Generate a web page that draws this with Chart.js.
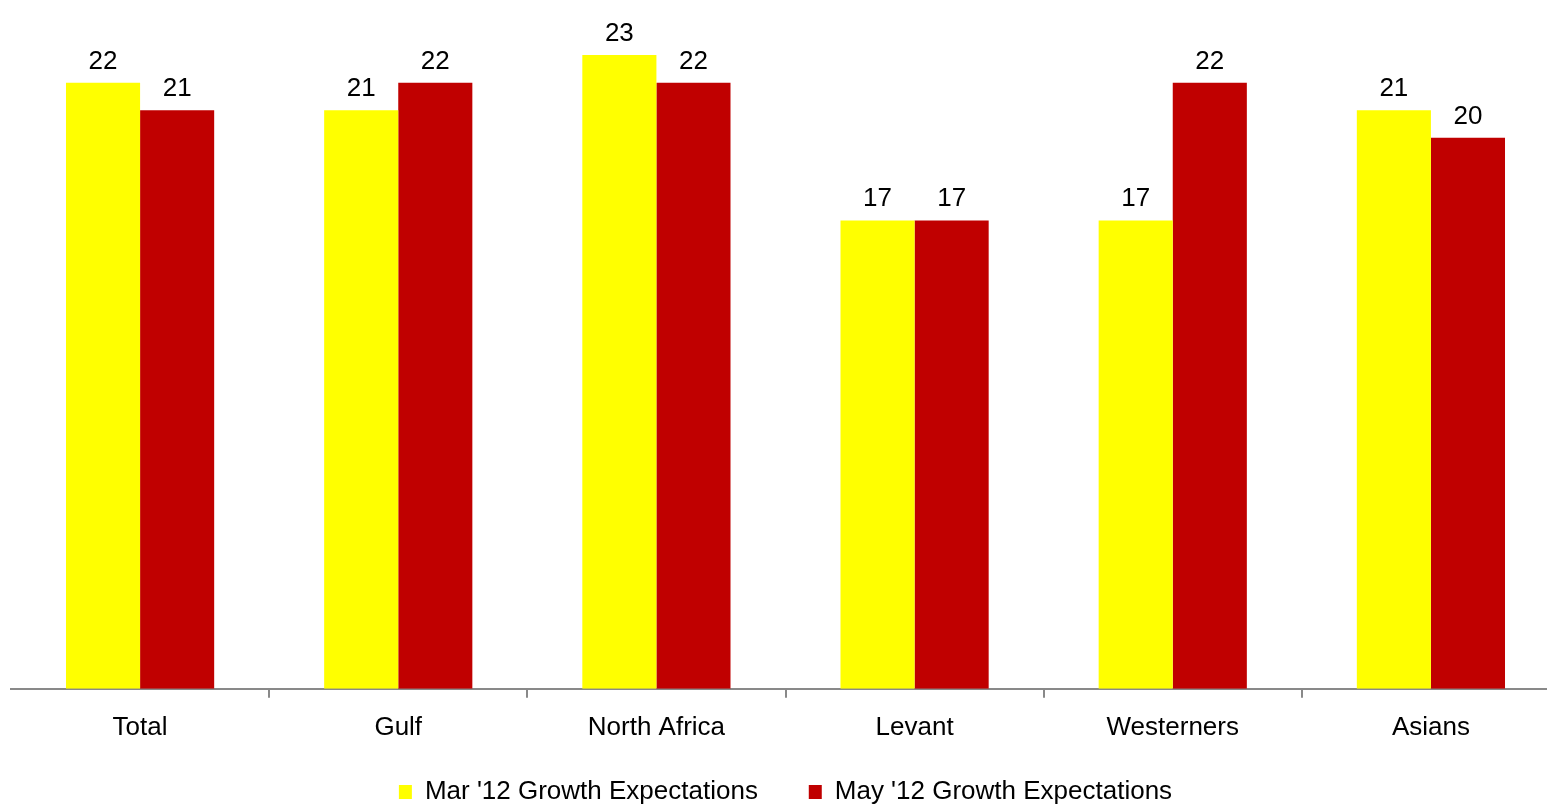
<!DOCTYPE html>
<html>
<head>
<meta charset="utf-8">
<script src="https://cdn.jsdelivr.net/npm/chart.js@4"></script>
<style>
  html, body { margin: 0; padding: 0; background: #fff; overflow: hidden; }
  #wrap { width: 1560px; height: 807px; }
</style>
</head>
<body>
<div id="wrap"><canvas id="myChart"></canvas></div>
<script>
const regions = ['Total', 'Gulf', 'North Africa', 'Levant', 'Westerners', 'Asians'];
const marValues = [22, 21, 23, 17, 17, 21];
const mayValues = [21, 22, 22, 17, 22, 20];
const seriesNames = ["Mar '12 Growth Expectations", "May '12 Growth Expectations"];

const FONT = '"Liberation Sans", Arial, sans-serif';

// value above each bar
const barValues = {
    id: 'barValues',
    afterDatasetsDraw(chart) {
        const c = chart.ctx;
        c.save();
        c.font = '26px ' + FONT;
        c.fillStyle = '#000';
        c.textAlign = 'center';
        c.textBaseline = 'alphabetic';
        chart.data.datasets.forEach((ds, i) => {
            chart.getDatasetMeta(i).data.forEach((bar, j) => {
                c.fillText(ds.data[j], bar.x, bar.y - 14);
            });
        });
        c.restore();
    }
};

const myChart = new Chart('myChart', {
    type: 'bar',
    data: {
        labels: regions,
        datasets: [{
            label: seriesNames[0],
            data: marValues,
            backgroundColor: '#FFFF00'
        }, {
            label: seriesNames[1],
            data: mayValues,
            backgroundColor: '#C00000'
        }]
    },
    options: {
        responsive: true,
        maintainAspectRatio: false,
        animation: false,
        layout: { padding: { left: 11, right: 0, top: 0, bottom: -8 } },
        datasets: {
            bar: { categoryPercentage: 0.574, barPercentage: 1.0 }
        },
        scales: {
            y: {
                display: false,
                min: 0,
                max: 25
            },
            x: {
                border: { color: '#898989', width: 2 },
                grid: {
                    offset: true,
                    drawOnChartArea: false,
                    drawTicks: true,
                    tickLength: 9,
                    lineWidth: 2,
                    color: ctx => (ctx.index === 0 || ctx.index === regions.length) ? 'rgba(0,0,0,0)' : '#898989'
                },
                ticks: {
                    color: '#000',
                    font: { family: FONT, size: 26 },
                    padding: 14,
                    maxRotation: 0
                }
            }
        },
        plugins: {
            legend: {
                position: 'bottom',
                labels: {
                    color: '#000',
                    font: { family: FONT, size: 26 },
                    boxWidth: 13,
                    boxHeight: 14,
                    padding: 22,
                    // wider gap after the first entry
                    generateLabels(chart) {
                        const items = Chart.defaults.plugins.legend.labels.generateLabels(chart);
                        items[0].text += '    ';
                        return items;
                    }
                }
            },
            tooltip: { enabled: false }
        }
    },
    plugins: [barValues]
});
</script>
</body>
</html>
